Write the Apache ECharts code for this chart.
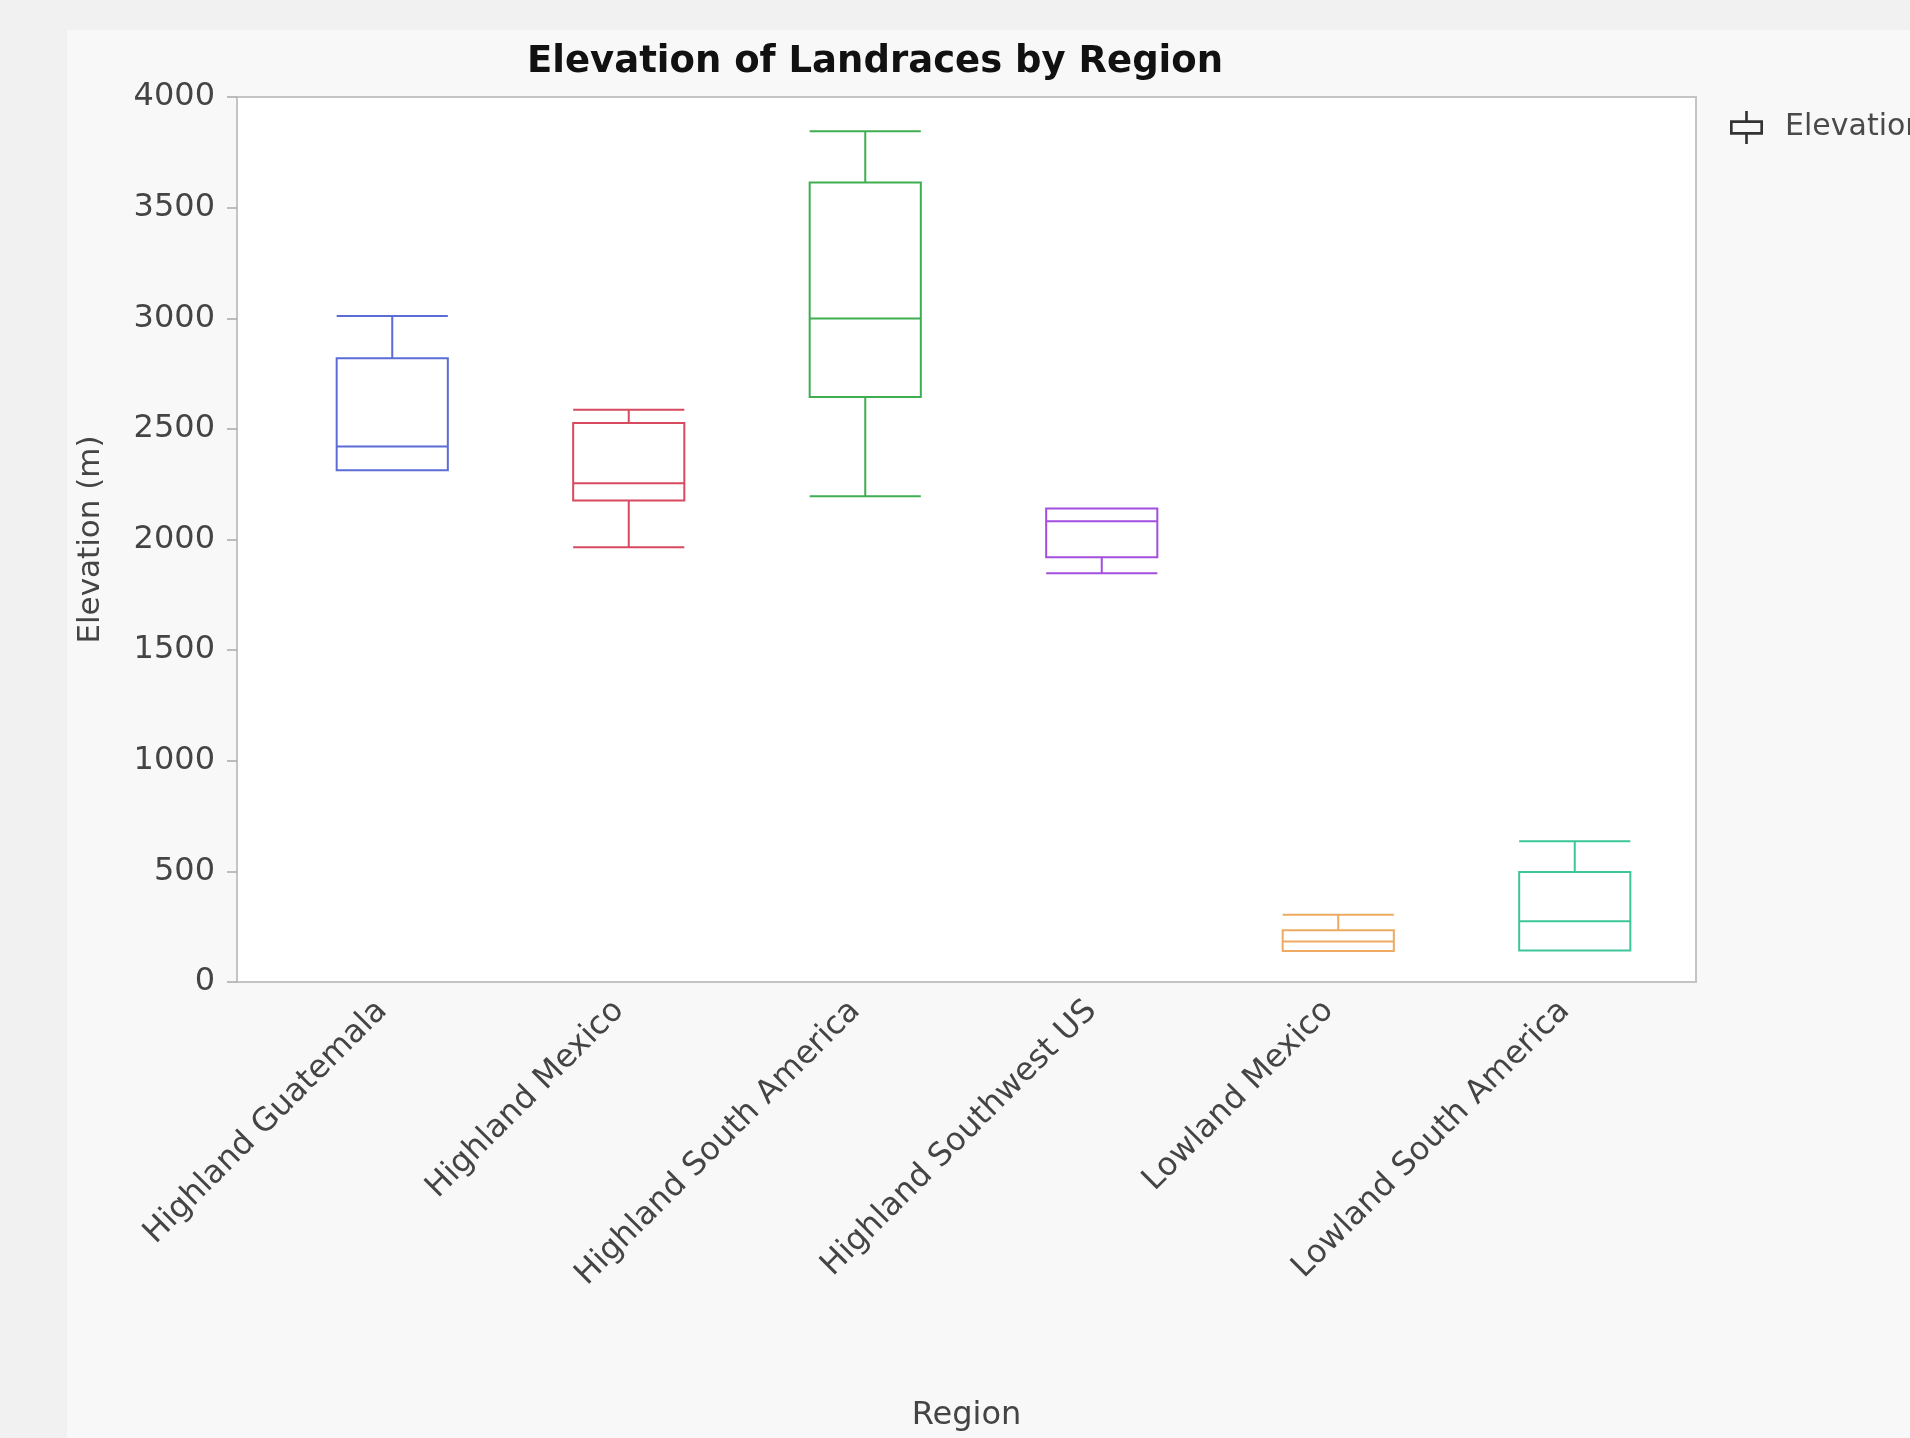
<!DOCTYPE html>
<html>
<head>
<meta charset="utf-8">
<title>Elevation of Landraces by Region</title>
<script src="https://cdn.jsdelivr.net/npm/echarts@6/dist/echarts.min.js"></script>
<style>
  html, body { margin: 0; padding: 0; background: #f1f1f1; }
  #chart { width: 1910px; height: 1438px; }
</style>
</head>
<body>
<div id="chart"></div>
<script>
// Regions on the category axis
const regions = [
  'Highland Guatemala',
  'Highland Mexico',
  'Highland South America',
  'Highland Southwest US',
  'Lowland Mexico',
  'Lowland South America'
];

// Five-number summaries per region (m): min, Q1, median, Q3, max
const elevMin    = [2313, 1965, 2195, 1848, 140, 142];
const elevQ1     = [2313, 2176, 2644, 1920, 140, 142];
const elevMedian = [2420, 2254, 2999, 2082, 183, 275];
const elevQ3     = [2819, 2527, 3613, 2140, 234, 497];
const elevMax    = [3010, 2586, 3845, 2140, 304, 636];

// Y-axis range and step
const yMin = 0, yMax = 4000, yStep = 500;

const regionColors = ['#5b6cd6', '#d84a5f', '#3fae50', '#a24fe0', '#eeaa62', '#3ec69b'];

const FONT = 'DejaVu Sans';

const boxData = regions.map((r, i) => ({
  name: r,
  value: [elevMin[i], elevQ1[i], elevMedian[i], elevQ3[i], elevMax[i]],
  itemStyle: { color: 'transparent', borderColor: regionColors[i], borderWidth: 2 }
}));

// Legend glyph: box with whiskers above and below
const boxIcon = 'path://M46,0H54V28H46Z M0,28H100V36H0Z M0,64H100V72H0Z M0,28H8V72H0Z M92,28H100V72H92Z M46,72H54V100H46Z';

const chart = echarts.init(document.getElementById('chart'), null, { renderer: 'canvas' });

chart.setOption({
  backgroundColor: '#f1f1f1',
  animation: false,
  textStyle: { fontFamily: FONT },
  graphic: [{
    type: 'rect',
    z: -100,
    silent: true,
    shape: { x: 67, y: 30, width: 1843, height: 1408 },
    style: { fill: '#f8f8f8' }
  }],
  title: {
    text: 'Elevation of Landraces by Region',
    left: 527,
    top: 44,
    padding: 0,
    textStyle: { fontFamily: FONT, fontSize: 37, fontWeight: 'bold', color: '#111' }
  },
  legend: {
    left: 1730,
    top: 111,
    padding: 0,
    icon: boxIcon,
    itemWidth: 33,
    itemHeight: 34,
    itemStyle: { color: '#333', borderWidth: 0 },
    textStyle: { fontFamily: FONT, fontSize: 30, color: '#4a4a4a', padding: [0, 0, 0, 17] },
    data: ['Elevation (m)']
  },
  grid: [
    { // frame and value axis
      left: 237, right: 214, top: 97, bottom: 456,
      show: true, backgroundColor: '#ffffff', borderColor: '#c4c4c4', borderWidth: 2,
      outerBoundsMode: 'none', containLabel: false
    },
    { // category band for the boxes
      left: 274, right: 217, top: 97, bottom: 456,
      outerBoundsMode: 'none', containLabel: false
    }
  ],
  xAxis: [
    {
      gridIndex: 0,
      type: 'value', min: 0, max: 1,
      name: 'Region', nameLocation: 'middle', nameGap: 418,
      nameTextStyle: { fontFamily: FONT, fontSize: 32, color: '#444' },
      axisLine: { show: false }, axisTick: { show: false },
      axisLabel: { show: false }, splitLine: { show: false }
    },
    {
      gridIndex: 1,
      type: 'category', data: regions, boundaryGap: true,
      axisLine: { show: false }, axisTick: { show: false }, splitLine: { show: false },
      axisLabel: {
        rotate: 45, margin: 14, interval: 0,
        padding: [0, 14, 0, 0],
        fontFamily: FONT, fontSize: 32, color: '#444'
      }
    }
  ],
  yAxis: [
    {
      gridIndex: 0,
      type: 'value', min: yMin, max: yMax, interval: yStep,
      name: 'Elevation (m)', nameLocation: 'middle', nameGap: 131,
      nameTextStyle: { fontFamily: FONT, fontSize: 31, color: '#444' },
      axisLine: { show: false },
      axisTick: { show: true, length: 10, lineStyle: { color: '#a8a8a8', width: 1.5 } },
      axisLabel: {
        margin: 22, fontFamily: FONT, fontSize: 32, color: '#444',
        formatter: v => String(v)
      },
      splitLine: { show: false }
    },
    {
      gridIndex: 1,
      type: 'value', min: yMin, max: yMax, interval: yStep,
      show: false, splitLine: { show: false }
    }
  ],
  series: [{
    name: 'Elevation (m)',
    type: 'boxplot',
    xAxisIndex: 1,
    yAxisIndex: 1,
    boxWidth: ['47%', '47%'],
    itemStyle: { color: 'transparent', borderColor: '#3a3a3a', borderWidth: 2 },
    emphasis: { disabled: true },
    data: boxData
  }]
});
</script>
</body>
</html>
